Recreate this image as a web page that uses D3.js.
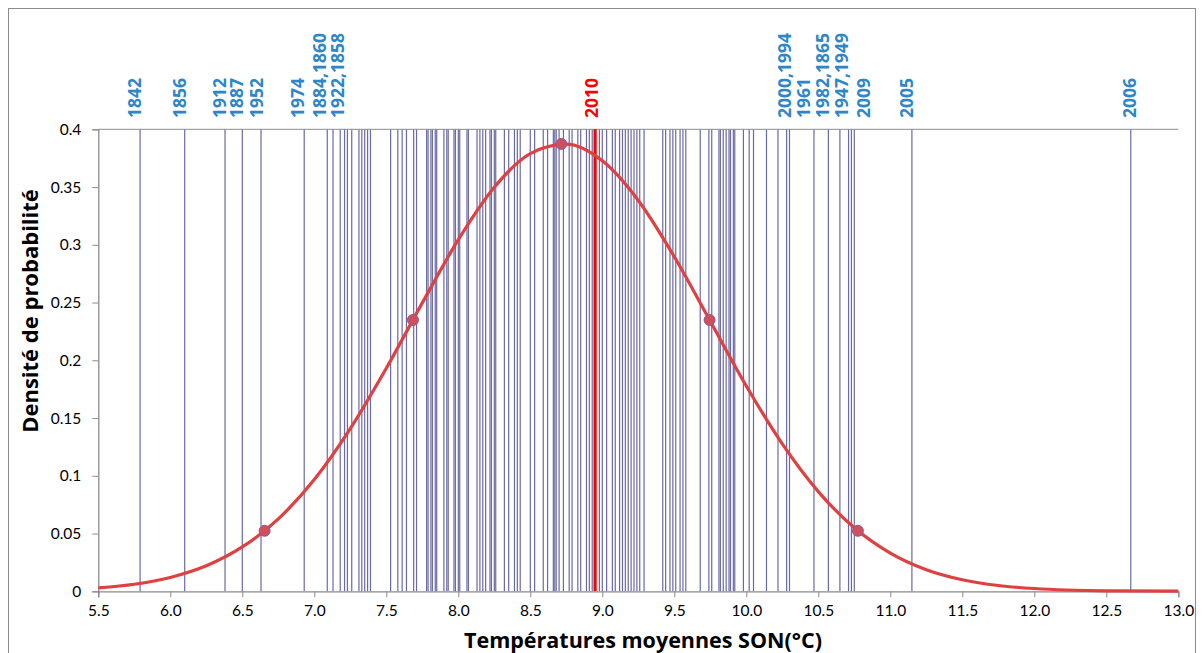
<!DOCTYPE html>
<html>
<head>
<meta charset="utf-8">
<script src="https://cdn.jsdelivr.net/npm/d3@7"></script>
<style>
  html, body { margin: 0; padding: 0; background: #fff; }
  svg { display: block; }
  text { font-family: Lato, "Open Sans", sans-serif; }
</style>
</head>
<body>
<svg id="chart" width="1204" height="653"></svg>
<script>
// ---------- data ----------
// observed seasonal (SON) mean temperatures, one vertical line each
const yearTemps = [5.79, 6.10, 6.38, 6.50, 6.63, 6.93, 7.09, 7.13, 7.18, 7.21, 7.23, 7.26, 7.31, 7.33, 7.35, 7.37, 7.39,
  7.53, 7.58, 7.61, 7.64, 7.69, 7.71, 7.78, 7.79, 7.81, 7.82, 7.84, 7.85, 7.90, 7.92, 7.93, 7.97, 7.98, 8.00, 8.01,
  8.06, 8.07, 8.13, 8.15, 8.17, 8.19, 8.22, 8.23, 8.25, 8.26, 8.32, 8.35, 8.39, 8.41, 8.43, 8.50, 8.53, 8.59, 8.62,
  8.66, 8.67, 8.68, 8.70, 8.73, 8.77, 8.79, 8.83, 8.85, 8.89, 8.91, 8.93, 8.98, 9.00, 9.03, 9.07, 9.09, 9.12, 9.14,
  9.16, 9.18, 9.20, 9.22, 9.24, 9.26, 9.29, 9.42, 9.44, 9.47, 9.49, 9.51, 9.54, 9.56, 9.58, 9.68, 9.74, 9.76, 9.81,
  9.82, 9.84, 9.86, 9.88, 9.89, 9.91, 9.92, 9.98, 10.02, 10.05, 10.14, 10.22, 10.28, 10.30, 10.47, 10.57, 10.65,
  10.71, 10.73, 10.75, 11.15, 12.67];
const highlightYear = "2010";
const highlightTemp = 8.95;

// year labels (text, temperature where the label sits)
const labelTexts = ["1842", "1856", "1912", "1887", "1952", "1974", "1884,1860", "1922,1858",
  "2000,1994", "1961", "1982,1865", "1947,1949", "2009", "2005", "2006"];
const labelTemps = [5.755, 6.067, 6.340, 6.461, 6.600, 6.887, 7.040, 7.160,
  10.264, 10.401, 10.530, 10.662, 10.812, 11.114, 12.665];
const highlightLabelTemp = 8.926;

// fitted normal density curve
const curveX = [5.5, 5.75, 6.0, 6.25, 6.5, 6.75, 7.0, 7.25, 7.5, 7.75, 8.0, 8.25, 8.5, 8.75, 9.0, 9.25, 9.5, 9.75,
  10.0, 10.25, 10.5, 10.75, 11.0, 11.25, 11.5, 11.75, 12.0, 12.5, 13.0];
const curveY = [0.003, 0.0061, 0.0120, 0.0221, 0.0384, 0.0627, 0.0968, 0.1409, 0.1931, 0.2497, 0.3044, 0.3498,
  0.3790, 0.3871, 0.3727, 0.3384, 0.2897, 0.2338, 0.1778, 0.1276, 0.0863, 0.0550, 0.0331, 0.0187, 0.0100,
  0.0050, 0.0024, 0.00045, 0.0001];

// markers: mean, mean ± 1 sd, mean ± 2 sd
const markerX = [6.655, 7.685, 8.715, 9.745, 10.775];
const markerY = [0.0524, 0.2349, 0.3873, 0.2349, 0.0524];

const xTicks = [5.5, 6.0, 6.5, 7.0, 7.5, 8.0, 8.5, 9.0, 9.5, 10.0, 10.5, 11.0, 11.5, 12.0, 12.5, 13.0];
const yTicks = [0, 0.05, 0.1, 0.15, 0.2, 0.25, 0.3, 0.35, 0.4];
const xTitle = "Températures moyennes SON(°C)";
const yTitle = "Densité de probabilité";

// ---------- layout ----------
const svg = d3.select("#chart");
const mLeft = 98.3, mRight = 1178.3, mTop = 129.3, mBottom = 591.3;
const x = d3.scaleLinear().domain([5.5, 13.0]).range([mLeft, mRight]);
const y = d3.scaleLinear().domain([0, 0.4]).range([mBottom, mTop]);

const axisColor = "#8c8c8c";
const lineColor = "#6a6aa6";
const labelColor = "#2e86c8";
const boldFont = "'Open Sans', Lato, sans-serif";

// outer chart border
svg.append("rect").attr("x", 8.5).attr("y", 8.5).attr("width", 1187).attr("height", 700)
  .attr("fill", "none").attr("stroke", "#8c8c8c").attr("stroke-width", 1);

// vertical year lines
svg.append("g").selectAll("line").data(yearTemps).join("line")
  .attr("x1", d => x(d)).attr("x2", d => x(d))
  .attr("y1", y(0)).attr("y2", y(0.4))
  .attr("stroke", lineColor).attr("stroke-width", 1.2);

// top secondary axis line
svg.append("line").attr("x1", mLeft).attr("x2", mRight).attr("y1", y(0.4)).attr("y2", y(0.4))
  .attr("stroke", axisColor).attr("stroke-width", 1);

// highlighted year line
svg.append("line")
  .attr("x1", x(highlightTemp)).attr("x2", x(highlightTemp))
  .attr("y1", y(0)).attr("y2", y(0.4))
  .attr("stroke", "#ff0000").attr("stroke-width", 3.2);

// axes
const xAxis = d3.axisBottom(x).tickValues(xTicks).tickFormat(d3.format(".1f")).tickSize(6).tickPadding(8);
const gx = svg.append("g").attr("transform", `translate(0,${mBottom})`).call(xAxis);
const yAxis = d3.axisLeft(y).tickValues(yTicks).tickFormat(d => d === 0 ? "0" : String(+d.toFixed(2))).tickSize(6).tickPadding(11);
const gy = svg.append("g").attr("transform", `translate(${mLeft},0)`).call(yAxis);
[gx, gy].forEach(g => {
  g.select(".domain").attr("stroke", axisColor).attr("stroke-width", 1.3);
  g.selectAll(".tick line").attr("stroke", axisColor).attr("stroke-width", 1);
  g.selectAll(".tick text").attr("fill", "#000").style("font-size", "15.5px").style("font-family", "Lato, sans-serif");
});

// density curve
const line = d3.line().x((d, i) => x(curveX[i])).y((d, i) => y(curveY[i])).curve(d3.curveMonotoneX);
svg.append("path").datum(curveY).attr("d", line)
  .attr("fill", "none").attr("stroke", "#df4040").attr("stroke-width", 3.2);

// markers
svg.append("g").selectAll("circle").data(markerX).join("circle")
  .attr("cx", d => x(d)).attr("cy", (d, i) => y(markerY[i])).attr("r", 5.5)
  .attr("fill", "#d04f5a").attr("stroke", "#8e5a92").attr("stroke-width", 1);

// year labels
const labelBase = 118;
svg.append("g").selectAll("text").data(labelTexts).join("text")
  .attr("transform", (d, i) => `translate(${x(labelTemps[i])},${labelBase}) rotate(-90)`)
  .attr("dy", "0.36em")
  .attr("fill", labelColor).style("font-size", "17.5px").style("font-weight", "bold").style("font-family", boldFont)
  .text(d => d);
svg.append("text")
  .attr("transform", `translate(${x(highlightLabelTemp)},${labelBase}) rotate(-90)`)
  .attr("dy", "0.36em")
  .attr("fill", "#ff0000").style("font-size", "17.5px").style("font-weight", "bold").style("font-family", boldFont)
  .text(highlightYear);

// axis titles
svg.append("text").attr("x", 643).attr("y", 648)
  .attr("text-anchor", "middle").style("font-size", "21.5px").style("font-weight", "bold").style("font-family", boldFont)
  .text(xTitle);
svg.append("text").attr("transform", `translate(38,311) rotate(-90)`)
  .attr("text-anchor", "middle").style("font-size", "22px").style("font-weight", "bold").style("font-family", boldFont)
  .text(yTitle);
</script>
</body>
</html>
